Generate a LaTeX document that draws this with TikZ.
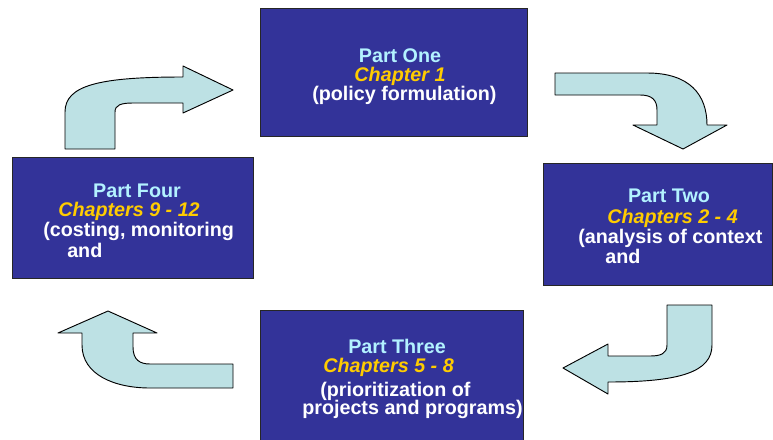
\documentclass[tikz,border=0pt]{standalone}
\usepackage{fontspec}
\setmainfont{Liberation Sans}
\definecolor{boxblue}{HTML}{333399}
\definecolor{partcyan}{HTML}{B3F2FF}
\definecolor{chapgold}{HTML}{FFCC00}
\definecolor{arrowfill}{HTML}{BDE1E4}
\tikzset{
  partbox/.style={draw=black!85, line width=0.7pt, fill=boxblue, inner sep=0pt},
  parttitle/.style={text=partcyan, font=\fontsize{14.8}{15}\selectfont\bfseries, inner sep=0pt},
  chaptitle/.style={text=chapgold, font=\fontsize{14.8}{15}\selectfont\bfseries\itshape, inner sep=0pt},
  desc/.style={text=white, font=\fontsize{14.8}{15}\selectfont\bfseries, inner sep=0pt},
  bentarrow/.style={draw=black, line width=0.7pt, fill=arrowfill, line join=round}
}
\begin{document}
\begin{tikzpicture}[x=0.75pt, y=-0.75pt]
    \useasboundingbox (0,0) rectangle (773,439);
    % boxes
    \node[partbox, minimum width=200.25pt, minimum height=96pt] (one) at (393.5,72) {};
    \node[partbox, minimum width=171.75pt, minimum height=91.5pt] (two) at (657.5,224) {};
    \node[partbox, minimum width=197.25pt, minimum height=101.25pt] (three) at (391.5,377.5) {};
    \node[partbox, minimum width=180.75pt, minimum height=90.75pt] (four) at (132.5,217.5) {};
    % part one
    \node[parttitle, anchor=base] (onetitle) at (400,62) {Part One};
    \node[chaptitle, anchor=base] (onechap) at (400,81) {Chapter 1};
    \node[desc, anchor=base west] (onedesc) at (312,100) {(policy formulation)};
    % part two
    \node[parttitle, anchor=base] (twotitle) at (669,202) {Part Two};
    \node[chaptitle, anchor=base west] (twochap) at (607,223) {Chapters 2 - 4};
    \node[desc, anchor=base west] (twodesc) at (578,243) {(analysis of context};
    \node[desc, anchor=base west] (twoand) at (605,263) {and};
    % part three
    \node[parttitle, anchor=base west] (threetitle) at (348,353) {Part Three};
    \node[chaptitle, anchor=base west] (threechap) at (323,372) {Chapters 5 - 8};
    \node[desc, anchor=base west] (threedesc) at (320,396) {(prioritization of};
    \node[desc, anchor=base west] (threeproj) at (302,414) {projects and programs)};
    % part four
    \node[parttitle, anchor=base] (fourtitle) at (137,197) {Part Four};
    \node[chaptitle, anchor=base west] (fourchap) at (58,216) {Chapters 9 - 12};
    \node[desc, anchor=base west] (fourdesc) at (43,236) {(costing, monitoring};
    \node[desc, anchor=base west] (fourand) at (67,257) {and};
    % arrows
    \draw[bentarrow] (65,149) -- (65,112) .. controls (65,85) and (100,77) .. (183,77)
        -- (183,66) -- (233,90) -- (183,113) -- (183,103) -- (133,103)
        .. controls (121,103) and (115,105) .. (115,112) -- (115,149) -- cycle;
    \draw[bentarrow] (555,73) -- (647,73) .. controls (690,73) and (707,95) .. (707,125)
        -- (727,125) -- (683,149) -- (633,125) -- (657,125) -- (657,110)
        .. controls (657,100) and (652,95) .. (640,95) -- (555,95) -- cycle;
    \draw[bentarrow] (667,305) -- (712,305) -- (712,345) .. controls (712,372) and (680,382) .. (608,382)
        -- (608,394) -- (563,368) -- (608,344) -- (608,356) -- (650,356)
        .. controls (660,356) and (667,354) .. (667,345) -- cycle;
    \draw[bentarrow] (233,364) -- (150,364) .. controls (140,364) and (133,360) .. (133,347)
        -- (133,333) -- (157,333) -- (108,311) -- (58,333) -- (82,333) -- (82,345)
        .. controls (82,375) and (115,388) .. (150,388) -- (233,388) -- cycle;
\end{tikzpicture}
\end{document}
